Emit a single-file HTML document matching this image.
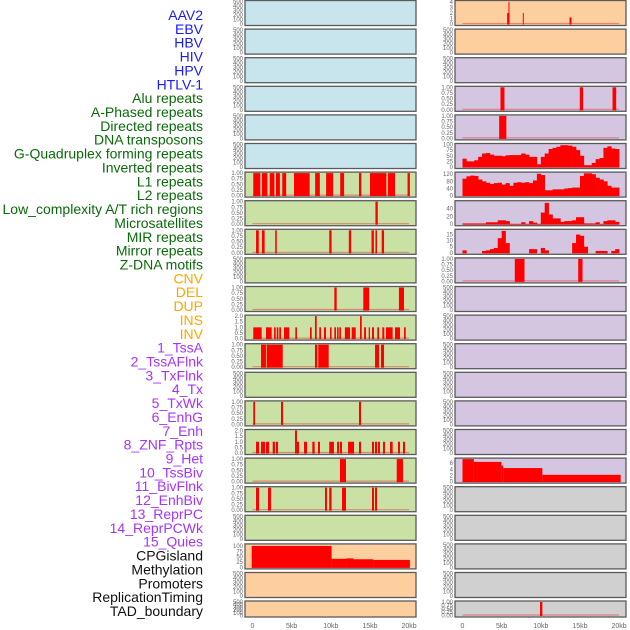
<!DOCTYPE html>
<html><head><meta charset="utf-8"><style>
html,body{margin:0;padding:0;background:#fff;}
svg{display:block;font-family:"Liberation Sans",sans-serif;}
</style></head><body>
<svg id="chart" width="630" height="630" viewBox="0 0 630 630" xmlns="http://www.w3.org/2000/svg"></svg>
<script>
// ---- labels ----
const trackLabels = ["AAV2","EBV","HBV","HIV","HPV","HTLV-1","Alu repeats","A-Phased repeats","Directed repeats","DNA transposons","G-Quadruplex forming repeats","Inverted repeats","L1 repeats","L2 repeats","Low_complexity A/T rich regions","Microsatellites","MIR repeats","Mirror repeats","Z-DNA motifs","CNV","DEL","DUP","INS","INV","1_TssA","2_TssAFlnk","3_TxFlnk","4_Tx","5_TxWk","6_EnhG","7_Enh","8_ZNF_Rpts","9_Het","10_TssBiv","11_BivFlnk","12_EnhBiv","13_ReprPC","14_ReprPCWk","15_Quies","CPGisland","Methylation","Promoters","ReplicationTiming","TAD_boundary"];
const labelGroupSizes = [6,13,5,15,5];
const xTickValues = [0,5,10,15,20];
const xTickLabels = ["0","5kb","10kb","15kb","20kb"];

// ---- left column interval data (kb) ----
const l7Starts = [0.1,1.2,2.2,3.0,3.8,5.3,8.0,9.4,11.2,13.6,15.0,17.3,19.8];
const l7Ends   = [1.0,1.9,2.8,3.5,4.3,7.3,8.6,10.3,11.7,13.9,17.1,18.2,20.1];
const l8Starts = [15.7]; const l8Ends = [16.0];
const l9Starts = [0.45,1.2,2.9,9.8,12.3,15.2,15.7,16.5];
const l9Ends   = [0.8,1.55,3.1,10.1,12.6,15.5,15.9,16.8];
const l11Starts = [10.45,14.15,18.7]; const l11Ends = [10.75,14.9,19.35];
const l12Starts = [0.1,1.72,2.75,3.09,3.42,4.02,5.47,7.34,7.98,8.53,9.13,9.9,10.45,10.8,11.09,11.8,12.67,13.73,14.25,14.84,15.26,15.94,16.58,17.05,18.2,19.35];
const l12Ends   = [1.17,2.45,2.96,3.3,3.64,4.7,5.68,7.56,8.2,8.75,9.39,10.1,10.66,11.0,11.3,12.45,13.18,13.95,14.5,15.0,15.52,16.16,16.83,17.9,18.84,19.57];
const l12Values = [1,1,1,1,1,1,1,1,2,1,1,1,1,1,1,1,1,2,1,1,1,1,1,1,1,1];
const l13Starts = [1.09,1.81,7.98,8.4,15.65,16.41]; const l13Ends = [1.72,3.86,8.28,9.73,16.16,16.8];
const l15Starts = [0.1,3.64,13.6]; const l15Ends = [0.32,3.9,13.86];
const l16Starts = [0.45,1.09,1.72,2.58,3.0,5.43,5.68,6.58,7.64,8.36,9.8,10.8,11.17,12.2,13.6,15.26,15.645,16.03,16.67,17.56,18.58,19.22];
const l16Ends   = [0.83,1.6,2.11,2.87,3.26,5.68,5.94,6.96,7.94,8.62,10.4,11.05,11.43,12.97,13.86,15.52,15.9,16.28,16.92,17.9,18.84,19.48];
const l16Values = [1,1,1,1,1,2,1,1,1,1,1,1,1,1,1,1,1,1,1,1,1,1];
const l17Starts = [11.17,18.42]; const l17Ends = [11.94,19.22];
const l18Starts = [0.45,1.98,9.26,9.8,11.43,15.26,15.65]; const l18Ends = [0.83,2.36,9.51,10.1,11.94,15.52,15.9];
const l20Starts = [-0.1,10.1,12.0,12.9,15.4]; const l20Ends = [10.1,12.0,12.9,15.4,20.1];
const l20Values = [100,40,42,38,35];

// ---- right column data ----
const r1Starts = [5.7,5.87,7.7,13.67]; const r1Ends = [5.96,6.0,7.8,13.92]; const r1Values = [2,4,2,1.2];
const r4Starts = [4.85,14.98,19.16]; const r4Ends = [5.36,15.4,19.63];
const r5Starts = [4.68]; const r5Ends = [5.6];
const r10Starts = [6.68,14.78]; const r10Ends = [7.92,15.33];
const r17Starts = [0,1.45,4.97,5.2,10.2]; const r17Ends = [1.45,4.97,5.2,10.2,20.2]; const r17Values = [7.3,6.4,5.2,4.4,2.2];
// profiles: 40 bins of 0.5 kb
const r6Profile = [37,25,25,30,45,60,62,55,50,50,48,52,53,53,53,60,55,45,45,12,45,60,80,85,90,97,97,95,90,75,50,8,8,18,35,40,85,92,82,80];
const r7Profile = [95,108,112,110,90,80,72,65,70,72,62,70,55,72,75,72,75,70,85,122,115,30,30,35,35,35,40,42,45,45,110,125,125,120,100,90,80,55,45,45];
const r8Profile = [2,2,2,2,2,2,5,5,5,10,10,8,1,1,1,5,1,8,4,1,30,55,25,15,15,6,8,8,10,18,18,2,2,2,5,1,8,10,10,6];
const r9Profile = [2,0,0,0,0,1.5,2,3,4,12,18,8,0,0,0,0,0,3,3,0,4,2,0,0,0,0,0,0,8,15,14,5,0,0,1.5,1.5,1.5,0,1.5,3];

const BG = {blue:"#c8e4ec",green:"#c9e1a4",orange:"#fecf9e",purple:"#d4c5e1",gray:"#d0d0d0"};
const emptyTicks = [0,100,200,300,400,500];
const binTicks = [0,0.25,0.5,0.75,1];
const leftColors = ["blue","blue","blue","blue","blue","blue","green","green","green","green","green","green","green","green","green","green","green","green","green","orange","orange","orange"];
const rightColors = ["orange","orange","purple","purple","purple","purple","purple","purple","purple","purple","purple","purple","purple","purple","purple","purple","purple","gray","gray","gray","gray","gray"];

function iv(s,e,v){return {type:"iv",s:s,e:e,v:v};}
function pr(p){return {type:"pr",p:p};}
const leftTracks = {6:[iv(l7Starts,l7Ends),1,binTicks,2],7:[iv(l8Starts,l8Ends),1,binTicks,2],8:[iv(l9Starts,l9Ends),1,binTicks,2],
 10:[iv(l11Starts,l11Ends),1,binTicks,2],11:[iv(l12Starts,l12Ends,l12Values),2,[0,0.5,1,1.5,2],1],12:[iv(l13Starts,l13Ends),1,binTicks,2],
 14:[iv(l15Starts,l15Ends),1,binTicks,2],15:[iv(l16Starts,l16Ends,l16Values),2,[0,0.5,1,1.5,2],1],16:[iv(l17Starts,l17Ends),1,binTicks,2],
 17:[iv(l18Starts,l18Ends),1,binTicks,2],19:[iv(l20Starts,l20Ends,l20Values),105,[0,25,50,75,100],0,true]};
const rightTracks = {0:[iv(r1Starts,r1Ends,r1Values),4.1,[0,1,2,3,4],0],3:[iv(r4Starts,r4Ends),1,binTicks,2],4:[iv(r5Starts,r5Ends),1,binTicks,2],
 5:[pr(r6Profile),100,[0,25,50,75,100],0],6:[pr(r7Profile),126,[0,40,80,120],0],7:[pr(r8Profile),58,[0,20,40],0],
 8:[pr(r9Profile),18.5,[0,5,10,15],0],9:[iv(r10Starts,r10Ends),1,binTicks,2],16:[iv(r17Starts,r17Ends,r17Values),7.3,[0,2,4,6],0,true],21:[iv([9.9],[10.2]),1,binTicks,2]};

const svg = document.getElementById("chart");
const NS = "http://www.w3.org/2000/svg";
function mk(tag,attrs,parent){const e=document.createElementNS(NS,tag);for(const k in attrs)e.setAttribute(k,attrs[k]);(parent||svg).appendChild(e);return e;}

// labels
const groupColors = ["#1a1aff","#0a6a0a","#ffa500","#a633ff","#111111"];
const groupNames = ["virus","repeat","sv","chromhmm","other"];
let li=0;
labelGroupSizes.forEach(function(n,g){
  for(let k=0;k<n;k++){
    const t=mk("text",{x:203,y:20+li*13.86,"text-anchor":"end","font-size":"14",fill:groupColors[g]});
    t.textContent=trackLabels[li];
    
    
    li++;
  }
});

function rowGeom(i){ if(i===21) return {top:601,h:16}; return {top:0.5+i*28.6,h:25}; }

function drawColumn(left,colors,tracks,side){
  const w=171;
  const xS=function(kb){return left+7.5+kb*7.83;};
  for(let i=0;i<22;i++){
    const g=rowGeom(i);
    const grp=mk("g",{});
    
    
    mk("rect",{x:left,y:g.top,width:w,height:g.h,fill:BG[colors[i]],stroke:"#5a5a5a","stroke-width":"1.3"},grp);
    const tr=tracks[i];
    const y0=g.top+g.h-1.5, y1=g.top+1;
    let ymax=500, ticks=emptyTicks, dec=0;
    if(tr){ymax=tr[1];ticks=tr[2];dec=tr[3];}
    const yS=function(v){return y0-(v/ymax)*(y0-y1);};
    ticks.forEach(function(v){
      const t=mk("text",{x:left-2,y:yS(v)+2,"text-anchor":"end","font-size":"6",fill:"#666"},grp);
      t.textContent=v.toFixed(dec);
      
      
    });
    if(!tr) continue;
    const d=tr[0];
    if(d.type==="iv" && !tr[4]){
      const base=mk("line",{x1:xS(0),x2:xS(20),y1:y0-0.5,y2:y0-0.5,stroke:"#e05050","stroke-width":"1.2","stroke-opacity":"0.6"},grp);
      
      
    }
    if(d.type==="iv"){
      for(let k=0;k<d.s.length;k++){
        const v=d.v?d.v[k]:1;
        const x=xS(d.s[k]), x2=xS(d.e[k]);
        const r=mk("rect",{x:x,y:yS(v),width:Math.max(1,x2-x),height:y0-yS(v)+0.5,fill:"#ff0000"},grp);
        
        
      }
    } else {
      for(let k=0;k<d.p.length;k++){
        const v=d.p[k];
        if(v<=0) continue;
        const x=xS(k*0.5), x2=xS(k*0.5+0.5);
        const r=mk("rect",{x:x,y:yS(v),width:x2-x+0.3,height:y0-yS(v)+0.5,fill:"#ff0000"},grp);
        
        
      }
    }
  }
  xTickValues.forEach(function(v,k){
    const t=mk("text",{x:xS(v),y:628,"text-anchor":"middle","font-size":"7",fill:"#666"});
    t.textContent=xTickLabels[k];
    
    
  });
}
drawColumn(245,leftColors,leftTracks,"left");
drawColumn(455,rightColors,rightTracks,"right");
</script>
</body></html>
